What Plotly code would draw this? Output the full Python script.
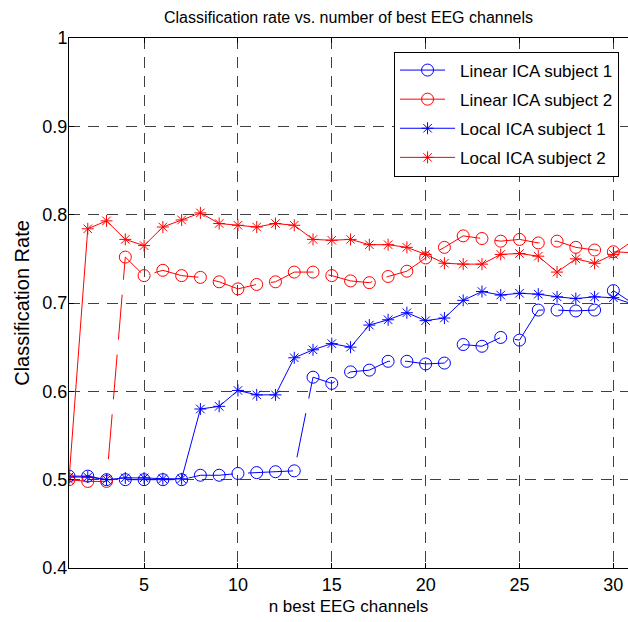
import plotly.graph_objects as go

x_channels = list(range(1, 32))

linear_s1 = [0.504, 0.504, 0.500, 0.500, 0.500, 0.500, 0.500, 0.505, 0.505, 0.507,
             0.508, 0.509, 0.510, 0.616, 0.609, 0.622, 0.624, 0.634, 0.634, 0.631,
             0.632, 0.653, 0.651, 0.661, 0.658, 0.692, 0.692, 0.691, 0.692, 0.714, 0.700]

linear_s2 = [0.500, 0.498, 0.498, 0.752, 0.731, 0.737, 0.731, 0.729, 0.724, 0.716,
             0.721, 0.724, 0.735, 0.735, 0.731, 0.725, 0.723, 0.730, 0.736, 0.751,
             0.763, 0.776, 0.773, 0.770, 0.772, 0.768, 0.770, 0.763, 0.760, 0.758, 0.757]

local_s1 = [0.503, 0.503, 0.500, 0.502, 0.502, 0.501, 0.501, 0.580, 0.583, 0.601,
            0.596, 0.596, 0.638, 0.647, 0.654, 0.650, 0.675, 0.681, 0.689, 0.680,
            0.683, 0.703, 0.713, 0.709, 0.711, 0.710, 0.707, 0.705, 0.707, 0.706, 0.699]

local_s2 = [0.500, 0.784, 0.793, 0.772, 0.765, 0.786, 0.794, 0.802, 0.790, 0.788,
            0.786, 0.790, 0.788, 0.772, 0.771, 0.772, 0.766, 0.766, 0.763, 0.755,
            0.745, 0.744, 0.744, 0.755, 0.756, 0.753, 0.735, 0.750, 0.745, 0.755, 0.770]

series_names = ["Linear ICA subject 1", "Linear ICA subject 2",
                "Local ICA subject 1", "Local ICA subject 2"]

x_ticks = [5, 10, 15, 20, 25, 30]
y_ticks = [0.4, 0.5, 0.6, 0.7, 0.8, 0.9, 1.0]
y_ticktext = ["0.4", "0.5", "0.6", "0.7", "0.8", "0.9", "1"]

FONT = "Liberation Sans, Arial, Helvetica, sans-serif"
BLUE = "#0000FF"
RED = "#FF0000"

fig = go.Figure()

styles = [
    (linear_s1, BLUE, "circle-open", 12, "45px,15px"),
    (linear_s2, RED, "circle-open", 12, "45px,15px"),
    (local_s1, BLUE, "asterisk-open", 10, "solid"),
    (local_s2, RED, "asterisk-open", 10, "solid"),
]

for name, (vals, col, sym, msize, dash) in zip(series_names, styles):
    # the last point lies just beyond the visible frame: only its line shows there
    fig.add_trace(go.Scatter(
        x=x_channels, y=vals, name=name, legendgroup=name,
        mode="lines+markers",
        line=dict(color=col, width=1, dash=dash),
        marker=dict(symbol=sym, size=msize, color=col, line=dict(color=col, width=1)),
        selectedpoints=list(range(len(vals) - 1)),
        selected=dict(marker=dict(opacity=1)),
        unselected=dict(marker=dict(opacity=0)),
    ))

fig.update_layout(
    width=628, height=622,
    margin=dict(l=69, r=0, t=38, b=54),
    paper_bgcolor="white", plot_bgcolor="white",
    font=dict(family=FONT, color="black"),
    title=dict(text="Classification rate vs. number of best EEG channels",
               x=0.5, xref="paper", xanchor="center",
               y=1 - 17 / 622, yref="container", yanchor="middle",
               font=dict(size=16, family=FONT, color="black")),
    showlegend=True,
    legend=dict(x=0.984, y=0.9745, xanchor="right", yanchor="top",
                bgcolor="white", bordercolor="black", borderwidth=1,
                font=dict(size=17, family=FONT), tracegroupgap=4,
                itemwidth=55),
)

fig.update_xaxes(
    range=[1, 30.78], tickmode="array", tickvals=x_ticks,
    ticks="inside", ticklen=5, tickcolor="black",
    showline=True, linecolor="black", linewidth=1, mirror="ticks",
    showgrid=True, gridcolor="#404040", gridwidth=1, griddash="11px,8px",
    zeroline=False, tickfont=dict(size=18, family=FONT),
    title=dict(text="n best EEG channels", font=dict(size=17, family=FONT), standoff=6),
)
fig.update_yaxes(
    range=[0.4, 1.0], tickmode="array", tickvals=y_ticks, ticktext=y_ticktext,
    ticks="inside", ticklen=5, tickcolor="black",
    showline=True, linecolor="black", linewidth=1, mirror=False,
    showgrid=True, gridcolor="#404040", gridwidth=1, griddash="11px,8px",
    zeroline=False, tickfont=dict(size=18, family=FONT), ticklabelstandoff=-3,
    title=dict(text="Classification Rate", font=dict(size=20, family=FONT), standoff=7),
)

fig.write_html("out.html")
